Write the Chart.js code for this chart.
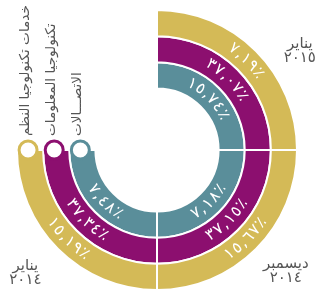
<!DOCTYPE html>
<html>
<head>
<meta charset="utf-8">
<script src="https://cdn.jsdelivr.net/npm/chart.js@4.4.0/dist/chart.umd.min.js"></script>
<style>
  html, body { margin: 0; padding: 0; background: #fff; }
  #wrap { width: 317px; height: 296px; }
</style>
</head>
<body>
<div id="wrap"><canvas id="chart"></canvas></div>
<script>
// periods, clockwise from 12 o'clock
const periods = [["يناير", "٢٠١٥"], ["ديسمبر", "٢٠١٤"], ["يناير", "٢٠١٤"]];
const periodShare = [1, 1, 1]; // each period gets a quarter of the circle
const seriesNames = ["خدمات تكنولوجيا النظم", "تكنولوجيا المعلومات", "الاتصـــالات"];
const systemsValues = [7.19, 15.67, 15.19];
const itValues = [37.07, 37.15, 37.34];
const telecomValues = [15.74, 7.18, 7.48];
const seriesColors = ["#D4BA57", "#8C0F6F", "#5A8E9A"];

const allValues = [systemsValues, itValues, telecomValues];

function arabicPct(v) {
  return v.toFixed(2).replace(".", ",").replace(/\d/g, d => "٠١٢٣٤٥٦٧٨٩"[d]) + "٪";
}

// draws text along the arc, one glyph at a time
function arcText(ctx, text, cx, cy, r, mid, top) {
  const gap = 1;
  const chars = [...text];
  const total = ctx.measureText(text).width + gap * (chars.length - 1);
  let s = -total / 2;
  for (const ch of chars) {
    const w = ctx.measureText(ch).width;
    const off = (s + w / 2) / r;
    const a = top ? mid + off : mid - off;
    ctx.save();
    ctx.translate(cx + r * Math.cos(a), cy + r * Math.sin(a));
    ctx.rotate(top ? a + Math.PI / 2 : a - Math.PI / 2);
    ctx.fillText(ch, 0, 0);
    ctx.restore();
    s += w + gap;
  }
}

const labelsPlugin = {
  id: "ringLabels",
  afterDraw(chart) {
    const ctx = chart.ctx;
    ctx.save();
    // values on the rings
    ctx.fillStyle = "#fff";
    ctx.font = "16px 'DejaVu Sans'";
    ctx.textAlign = "center";
    ctx.textBaseline = "middle";
    chart.data.datasets.forEach((ds, i) => {
      chart.getDatasetMeta(i).data.forEach((arc, j) => {
        const mid = (arc.startAngle + arc.endAngle) / 2;
        const r = (arc.innerRadius + arc.outerRadius) / 2;
        arcText(ctx, arabicPct(allValues[i][j]), arc.x, arc.y, r, mid, Math.sin(mid) < 0);
      });
    });

    // legend: open circles at the ring ends + vertical names
    chart.data.datasets.forEach((ds, i) => {
      const meta = chart.getDatasetMeta(i);
      const last = meta.data[meta.data.length - 1];
      const r = (last.innerRadius + last.outerRadius) / 2 + 2;
      const x = last.x + r * Math.cos(last.endAngle);
      const y = last.y + r * Math.sin(last.endAngle);
      ctx.beginPath();
      ctx.arc(x, y, 9, 0, Math.PI * 2);
      ctx.fillStyle = "#fff";
      ctx.fill();
      ctx.lineWidth = 3;
      ctx.strokeStyle = seriesColors[i];
      ctx.stroke();

      ctx.save();
      ctx.translate(x - 3, y - 14);
      ctx.rotate(-Math.PI / 2);
      ctx.direction = "rtl";
      ctx.textAlign = "left";
      ctx.textBaseline = "middle";
      ctx.fillStyle = "#555";
      ctx.font = "13.6px 'DejaVu Sans'";
      ctx.fillText(seriesNames[i], 0, 0);
      ctx.restore();
    });

    // period names in the corners
    const outer = chart.getDatasetMeta(0).data;
    const spots = [[1.02, -0.71], [0.92, 0.86], [-0.94, 0.87]];
    ctx.fillStyle = "#555";
    ctx.font = "15px 'DejaVu Sans'";
    ctx.direction = "rtl";
    outer.forEach((arc, j) => {
      const x = arc.x + spots[j][0] * arc.outerRadius;
      const y = arc.y + spots[j][1] * arc.outerRadius;
      ctx.fillText(periods[j][0], x, y - 6);
      ctx.fillText(periods[j][1], x, y + 8);
    });
    ctx.restore();
  }
};

new Chart(document.getElementById("chart"), {
  type: "doughnut",
  data: {
    labels: periods.map(p => p.join(" ")),
    datasets: allValues.map((vals, i) => ({
      label: seriesNames[i],
      data: periodShare,
      backgroundColor: seriesColors[i],
      borderColor: "#fff",
      borderWidth: 2
    }))
  },
  options: {
    responsive: true,
    maintainAspectRatio: false,
    animation: false,
    events: [],
    rotation: 0,
    circumference: 270,
    cutout: "44%",
    layout: { padding: { left: 16, right: 19, top: 9, bottom: 5 } },
    plugins: {
      legend: { display: false },
      tooltip: { enabled: false }
    }
  },
  plugins: [labelsPlugin]
});
</script>
</body>
</html>
